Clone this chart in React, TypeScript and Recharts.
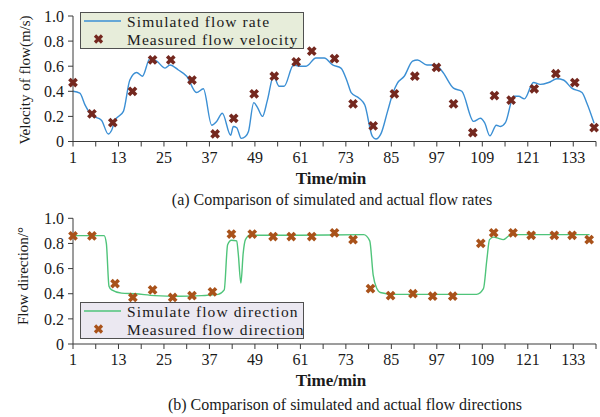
import { ComposedChart, Line, Scatter, XAxis, YAxis, Legend } from 'recharts';

// (a) velocity of flow
const simRateT = [1, 2.8, 4.2, 5.9, 8.5, 10.3, 11.2, 12.1, 14.3, 16, 17.8, 19.3, 21.3, 23.1, 25.3, 26.6, 28.8, 31, 33.6, 35.4, 37.6, 38.9, 40.4, 42.6, 43.3, 44.2, 45.4, 46.5, 47.3, 48.7, 49.7, 51, 52.3, 53.9, 55.4, 56.7, 59.2, 60.7, 62.5, 65.1, 67.3, 69.5, 71.7, 73.5, 74.4, 76.5, 78, 80, 80.9, 82.3, 84, 85.4, 86.6, 88.4, 90.6, 91.9, 94.4, 96.6, 98.4, 101.4, 103.6, 106.7, 108.5, 109.6, 111, 112.7, 113.8, 115.1, 117.3, 118.6, 120.1, 122.5, 124.3, 126.5, 128.7, 130.4, 132.6, 135.3, 136.6, 138.5];
const simRateV = [0.40, 0.385, 0.29, 0.21, 0.17, 0.06, 0.09, 0.17, 0.24, 0.49, 0.55, 0.52, 0.66, 0.64, 0.585, 0.61, 0.57, 0.52, 0.39, 0.42, 0.13, 0.16, 0.225, 0.05, 0.12, 0.11, 0.025, 0.04, 0.08, 0.31, 0.27, 0.20, 0.33, 0.52, 0.44, 0.44, 0.61, 0.60, 0.60, 0.665, 0.665, 0.61, 0.585, 0.465, 0.39, 0.345, 0.29, 0.04, 0.02, 0.065, 0.24, 0.385, 0.465, 0.52, 0.64, 0.65, 0.61, 0.61, 0.56, 0.425, 0.40, 0.16, 0.185, 0.15, 0.045, 0.13, 0.12, 0.15, 0.36, 0.36, 0.34, 0.47, 0.455, 0.47, 0.50, 0.49, 0.425, 0.39, 0.305, 0.145];
const measRateT = [1, 6, 11.5, 16.7, 22, 26.8, 32.4, 38.5, 43.4, 48.8, 54.1, 59.9, 64, 70, 74.9, 80.2, 85.8, 91.2, 96.9, 101.4, 106.5, 112.2, 116.6, 122.7, 128.4, 133.4, 138.5];
const measRateV = [0.47, 0.22, 0.15, 0.40, 0.65, 0.65, 0.49, 0.06, 0.185, 0.38, 0.52, 0.635, 0.72, 0.66, 0.30, 0.125, 0.38, 0.52, 0.59, 0.30, 0.07, 0.365, 0.33, 0.42, 0.54, 0.47, 0.11];

// (b) flow direction
const simDirT = [1, 9.2, 9.8, 10.5, 11.2, 13.8, 17.3, 22.6, 28.8, 34.9, 39.3, 40.9, 41.8, 42.8, 44.2, 44.6, 45.3, 45.9, 46.5, 47.7, 60, 77.7, 79.3, 80.2, 81.1, 82.1, 86, 107.5, 109.3, 110.2, 110.9, 112, 113.3, 114.5, 116, 117.5, 137.3];
const simDirV = [0.862, 0.862, 0.80, 0.46, 0.43, 0.405, 0.40, 0.385, 0.38, 0.385, 0.395, 0.43, 0.79, 0.825, 0.82, 0.72, 0.485, 0.72, 0.83, 0.865, 0.865, 0.87, 0.82, 0.55, 0.445, 0.41, 0.395, 0.395, 0.44, 0.67, 0.83, 0.85, 0.84, 0.83, 0.86, 0.87, 0.87];
const measDirT = [1, 6, 12.1, 16.8, 22, 27.3, 32.4, 37.8, 42.8, 48.3, 53.8, 58.6, 64, 70, 74.9, 79.5, 84.8, 90.7, 95.9, 101.2, 108.6, 112, 117.1, 121.9, 128, 132.7, 137.2];
const measDirV = [0.86, 0.86, 0.48, 0.37, 0.43, 0.37, 0.385, 0.415, 0.875, 0.875, 0.855, 0.855, 0.855, 0.885, 0.83, 0.44, 0.385, 0.40, 0.38, 0.38, 0.80, 0.885, 0.885, 0.865, 0.865, 0.865, 0.83];

const xTicks = [1, 7, 13, 19, 25, 31, 37, 43, 49, 55, 61, 67, 73, 79, 85, 91, 97, 103, 109, 115, 121, 127, 133, 139];
const yTicks = [0, 0.2, 0.4, 0.6, 0.8, 1.0];

const toPoints = (ts: number[], vs: number[]) => ts.map((t, i) => ({ t, v: vs[i] }));

const FONT = '"Liberation Serif", "Times New Roman", serif';
const AXIS = '#3a3a3a';
const tickStyle = { fill: '#1a1a1a', fontSize: 16, fontFamily: FONT };

const cross = (color: string) => (props: any) => {
  const { cx, cy } = props;
  const s = 3.6;
  return (
    <path
      d={`M${cx - s},${cy - s}L${cx + s},${cy + s}M${cx + s},${cy - s}L${cx - s},${cy + s}`}
      stroke={color}
      strokeWidth={3.6}
      fill="none"
    />
  );
};

interface LegendBoxProps {
  lineColor: string;
  markColor: string;
  lineLabel: string;
  markLabel: string;
  bg: string;
}

const ROW = 17.5;

const LegendBox = ({ lineColor, markColor, lineLabel, markLabel, bg }: LegendBoxProps) => (
  <div
    style={{
      border: '1.5px solid #505050',
      background: bg,
      width: 222,
      height: ROW * 2,
      fontFamily: FONT,
      fontSize: 15.5,
      lineHeight: `${ROW}px`,
      color: '#1a1a1a',
      boxSizing: 'content-box',
    }}
  >
    <div style={{ display: 'flex', alignItems: 'center', height: ROW }}>
      <svg width={44} height={10} style={{ marginLeft: 2, flex: 'none' }}>
        <line x1={1} x2={38} y1={4} y2={4} stroke={lineColor} strokeWidth={1.5} />
      </svg>
      <span style={{ whiteSpace: 'nowrap', letterSpacing: 1.1 }}>{lineLabel}</span>
    </div>
    <div style={{ display: 'flex', alignItems: 'center', height: ROW }}>
      <svg width={44} height={12} style={{ marginLeft: 2, flex: 'none' }}>
        <path d="M12,2.5L19,9.5M19,2.5L12,9.5" stroke={markColor} strokeWidth={3.2} fill="none" />
      </svg>
      <span style={{ whiteSpace: 'nowrap', letterSpacing: 1.1 }}>{markLabel}</span>
    </div>
  </div>
);

const Text = ({ x, y, size, bold, rotate, children }: any) => (
  <div
    style={{
      position: 'absolute',
      left: x,
      top: y,
      transform: `translate(-50%, -50%)${rotate ? ' rotate(-90deg)' : ''}`,
      whiteSpace: 'nowrap',
      fontFamily: FONT,
      fontSize: size,
      fontWeight: bold ? 'bold' : 'normal',
      color: '#1a1a1a',
      lineHeight: 1,
    }}
  >
    {children}
  </div>
);

interface PanelProps {
  sim: { t: number; v: number }[];
  meas: { t: number; v: number }[];
  lineColor: string;
  markColor: string;
  top: number;
  marginTop: number;
  marginBottom: number;
  legend: React.ReactNode;
  legendTop: number;
}

const Panel = ({ sim, meas, lineColor, markColor, top, marginTop, marginBottom, legend, legendTop }: PanelProps) => (
  <div style={{ position: 'absolute', left: 0, top }}>
    <ComposedChart width={600} height={185} margin={{ top: marginTop, right: 4, left: 23, bottom: marginBottom }}>
      <XAxis
        dataKey="t"
        type="number"
        domain={[1, 139]}
        ticks={xTicks}
        interval={0}
        tickFormatter={(v: number) => ((v - 1) % 12 === 0 ? String(v) : '')}
        tick={tickStyle}
        tickSize={5}
        tickMargin={5}
        height={30}
        stroke={AXIS}
      />
      <YAxis
        type="number"
        domain={[0, 1]}
        ticks={yTicks}
        interval={0}
        tickFormatter={(v: number) => (v === 0 ? '0' : v.toFixed(1))}
        tick={tickStyle}
        tickSize={5}
        tickMargin={4}
        width={50}
        stroke={AXIS}
      />
      <Line
        data={sim}
        dataKey="v"
        type="monotone"
        stroke={lineColor}
        strokeWidth={1.4}
        dot={false}
        activeDot={false}
        isAnimationActive={false}
      />
      <Scatter data={meas} dataKey="v" shape={cross(markColor)} isAnimationActive={false} />
      <Legend
        layout="vertical"
        align="center"
        verticalAlign="middle"
        content={() => legend}
        wrapperStyle={{ left: 80, top: legendTop, width: 226, height: 38 }}
      />
    </ComposedChart>
  </div>
);

const App = () => (
  <div style={{ position: 'absolute', left: 0, top: 0, width: 600, height: 417, background: '#fff' }}>
    <Panel
      sim={toPoints(simRateT, simRateV)}
      meas={toPoints(measRateT, measRateV)}
      lineColor="#3b8fd4"
      markColor="#74281f"
      top={0}
      marginTop={16}
      marginBottom={13.5}
      legendTop={12}
      legend={
        <LegendBox
          lineColor="#3b8fd4"
          markColor="#74281f"
          lineLabel="Simulated flow rate"
          markLabel="Measured flow velocity"
          bg="#e7edda"
        />
      }
    />
    <Panel
      sim={toPoints(simDirT, simDirV)}
      meas={toPoints(measDirT, measDirV)}
      lineColor="#4fc47a"
      markColor="#a9521a"
      top={200}
      marginTop={18.3}
      marginBottom={11}
      legendTop={102}
      legend={
        <LegendBox
          lineColor="#4fc47a"
          markColor="#a9521a"
          lineLabel="Simulate flow direction"
          markLabel="Measured flow direction"
          bg="#ebe8f1"
        />
      }
    />
    <Text x={25} y={80} size={15} rotate>Velocity of flow(m/s)</Text>
    <Text x={23} y={276} size={15} rotate>Flow direction/°</Text>
    <Text x={331} y={178} size={17} bold>Time/min</Text>
    <Text x={331} y={380} size={17} bold>Time/min</Text>
    <Text x={332} y={200} size={16}>(a) Comparison of simulated and actual flow rates</Text>
    <Text x={345} y={405} size={16}>(b) Comparison of simulated and actual flow directions</Text>
  </div>
);

export default App;
